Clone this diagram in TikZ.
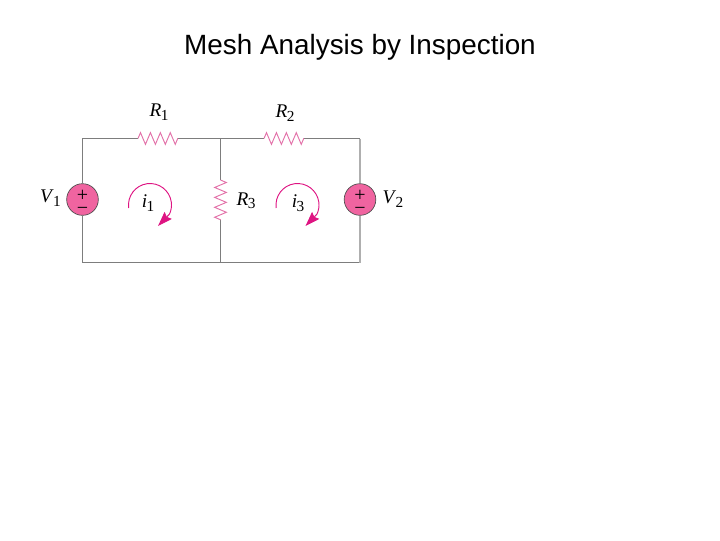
\documentclass[tikz,border=0pt]{standalone}
\usepackage{fontspec}
\setmainfont{Liberation Serif}
\newfontfamily\titlefont{Liberation Sans}
\usetikzlibrary{arrows.meta,decorations.pathmorphing}
\definecolor{wiregray}{RGB}{125,125,125}
\definecolor{rightgray}{RGB}{175,175,175}
\definecolor{respink}{RGB}{226,112,168}
\definecolor{srcpink}{RGB}{240,100,160}
\definecolor{looppink}{RGB}{222,20,130}
\tikzset{every picture/.style={line width=0.75pt},
  wire/.style={draw=wiregray,line width=0.85pt},
  res/.style={draw=respink,line width=0.7pt,decorate,decoration={zigzag,segment length=7.45pt,amplitude=4.4pt}},
  source/.style={circle,draw=black!70,fill=srcpink,line width=0.5pt,minimum size=23.5pt,inner sep=0pt,align=center,font=\fontsize{15}{9.75}\selectfont},
  lbl/.style={inner sep=0pt,font=\fontsize{14.5}{14.5}\selectfont},
  loop/.style={draw=looppink,line width=0.7pt,-{Stealth[length=11pt,width=7.5pt,inset=1.5pt]}}}
\newcommand{\sym}[2]{\textit{#1}\kern-0.4pt\raisebox{-2.6pt}{\fontsize{11.5}{11.5}\selectfont #2}}
\newcommand{\signs}{\rule{0pt}{12.5pt}+\\\textminus}

\begin{document}
\begin{tikzpicture}[x=0.75pt,y=0.75pt,yscale=-1,xscale=1]
\useasboundingbox (0,0) rectangle (720,540);

% Corners
\coordinate (tl) at (82.5,138.5);
\coordinate (tm) at (220.5,138.5);
\coordinate (tr) at (360,138.5);
\coordinate (bl) at (82.5,262.5);
\coordinate (bm) at (220.5,262.5);
\coordinate (br) at (360,262.5);
\coordinate (r1a) at (138,138.5);
\coordinate (r1b) at (178,138.5);
\coordinate (r2a) at (264,138.5);
\coordinate (r2b) at (304,138.5);
\coordinate (r3a) at (220.5,180);
\coordinate (r3b) at (220.5,220);

% Sources
\node [source] (vs1) at (82.5,199.5) {\signs};
\node [source] (vs2) at (360,199.5) {\signs};

% Wires
\draw [wire] (vs1) -- (tl) -- (r1a);
\draw [wire] (r1b) -- (tm) -- (r2a);
\draw [wire] (r2b) -- (tr);
\draw [wire] (tm) -- (r3a);
\draw [wire] (r3b) -- (bm);
\draw [wire] (vs1) -- (bl) -- (bm) -- (br);
\draw [draw=rightgray,line width=1.2pt] (tr) -- (vs2) -- (br);

% Resistors
\draw [res] (r1a) -- (r1b);
\draw [res] (r2a) -- (r2b);
\draw [res] (r3a) -- (r3b);

% Mesh currents
\coordinate (m1) at (150,205);
\coordinate (m3) at (297.5,205);
\coordinate (tip1) at (158,226);
\coordinate (tip3) at (305.5,226);
\draw [loop] ([shift={(172:21.5)}]m1) arc[start angle=172,end angle=385,radius=21.5] -- (tip1);
\draw [loop] ([shift={(172:21.5)}]m3) arc[start angle=172,end angle=385,radius=21.5] -- (tip3);

% Text Node
\node [inner sep=0pt,font=\titlefont\fontsize{20.9}{20.9}\selectfont] (title) at (360,47) {Mesh Analysis by Inspection};
\node [lbl] (lr1) at (159,112) {\sym{R}{1}};
\node [lbl] (lr2) at (285,113) {\sym{R}{2}};
\node [lbl] (lr3) at (246,201) {\sym{R}{3}};
\node [lbl] (lv1) at (50.5,198) {\sym{V}{1}};
\node [lbl] (lv2) at (393,199) {\sym{V}{2}};
\node [lbl] (li1) at (148,203) {\sym{i}{1}};
\node [lbl] (li3) at (298,203) {\sym{i}{3}};
\end{tikzpicture}
\end{document}
